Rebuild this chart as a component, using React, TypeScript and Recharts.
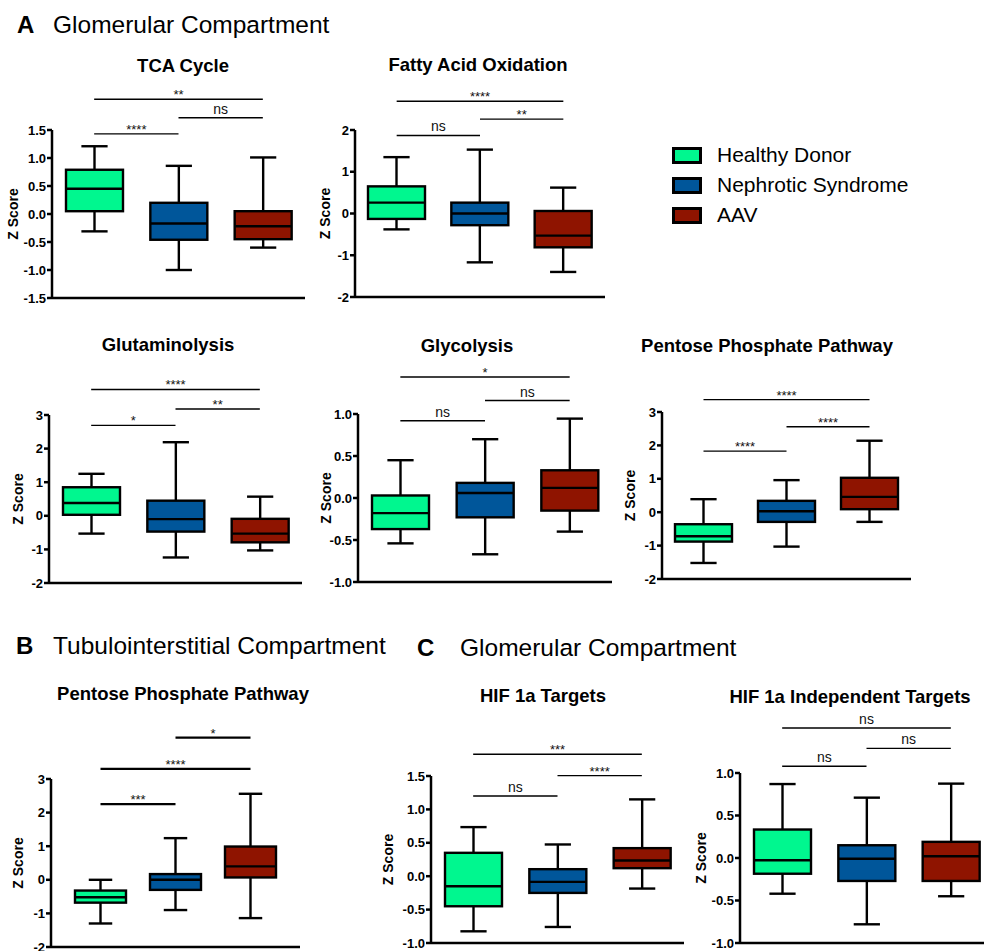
import React from 'react';
import { ComposedChart, Bar, XAxis, YAxis, ReferenceLine } from 'recharts';

const FONT = "'Liberation Sans', Arial, Helvetica, sans-serif";

const groups = ['Healthy Donor', 'Nephrotic Syndrome', 'AAV'];
const groupColors = ['#00F78F', '#00569A', '#8F1400'];

// five-number summaries: [min, q1, median, q3, max] per group (HD, NS, AAV)
const tcaStats = [
  [-0.31, 0.05, 0.45, 0.79, 1.21],
  [-1.0, -0.46, -0.17, 0.2, 0.86],
  [-0.6, -0.45, -0.22, 0.05, 1.01],
];
const faoStats = [
  [-0.38, -0.13, 0.26, 0.65, 1.35],
  [-1.17, -0.28, 0.0, 0.26, 1.53],
  [-1.4, -0.81, -0.53, 0.06, 0.62],
];
const glutStats = [
  [-0.53, 0.03, 0.38, 0.85, 1.25],
  [-1.24, -0.47, -0.1, 0.45, 2.19],
  [-1.03, -0.79, -0.53, -0.09, 0.57],
];
const glycStats = [
  [-0.54, -0.37, -0.18, 0.03, 0.45],
  [-0.67, -0.23, 0.06, 0.18, 0.7],
  [-0.4, -0.15, 0.12, 0.33, 0.945],
];
const pppGlomStats = [
  [-1.52, -0.88, -0.72, -0.36, 0.39],
  [-1.03, -0.29, 0.03, 0.34, 0.96],
  [-0.29, 0.09, 0.46, 1.03, 2.14],
];
const pppTubStats = [
  [-1.3, -0.68, -0.52, -0.32, 0.0],
  [-0.9, -0.3, 0.0, 0.17, 1.24],
  [-1.14, 0.07, 0.4, 0.99, 2.56],
];
const hifStats = [
  [-0.825, -0.45, -0.15, 0.35, 0.735],
  [-0.76, -0.25, -0.085, 0.105, 0.475],
  [-0.185, 0.12, 0.235, 0.42, 1.15],
];
const hifIndStats = [
  [-0.42, -0.185, -0.027, 0.335, 0.87],
  [-0.78, -0.27, -0.008, 0.15, 0.71],
  [-0.45, -0.27, 0.02, 0.19, 0.875],
];

// significance brackets: [fromGroup, toGroup, yValue, label]
const tcaSig: [number, number, number, string][] = [
  [0, 1, 1.43, '****'],
  [1, 2, 1.72, 'ns'],
  [0, 2, 2.05, '**'],
];
const faoSig: [number, number, number, string][] = [
  [0, 1, 1.87, 'ns'],
  [1, 2, 2.26, '**'],
  [0, 2, 2.69, '****'],
];
const glutSig: [number, number, number, string][] = [
  [0, 1, 2.69, '*'],
  [1, 2, 3.18, '**'],
  [0, 2, 3.76, '****'],
];
const glycSig: [number, number, number, string][] = [
  [0, 1, 0.92, 'ns'],
  [1, 2, 1.16, 'ns'],
  [0, 2, 1.44, '*'],
];
const pppGlomSig: [number, number, number, string][] = [
  [0, 1, 1.83, '****'],
  [1, 2, 2.56, '****'],
  [0, 2, 3.37, '****'],
];
const pppTubSig: [number, number, number, string][] = [
  [0, 1, 2.25, '***'],
  [0, 2, 3.3, '****'],
  [1, 2, 4.23, '*'],
];
const hifSig: [number, number, number, string][] = [
  [0, 1, 1.2, 'ns'],
  [1, 2, 1.505, '****'],
  [0, 2, 1.825, '***'],
];
const hifIndSig: [number, number, number, string][] = [
  [0, 1, 1.08, 'ns'],
  [1, 2, 1.29, 'ns'],
  [0, 2, 1.53, 'ns'],
];

// y-axis ticks
const ticks15 = [-1.5, -1.0, -0.5, 0.0, 0.5, 1.0, 1.5];
const ticks2 = [-2, -1, 0, 1, 2];
const ticks3 = [-2, -1, 0, 1, 2, 3];
const ticks1 = [-1.0, -0.5, 0.0, 0.5, 1.0];
const ticksHif = [-1.0, -0.5, 0.0, 0.5, 1.0, 1.5];

const titles = [
  'TCA Cycle',
  'Fatty Acid Oxidation',
  'Glutaminolysis',
  'Glycolysis',
  'Pentose Phosphate Pathway',
  'Pentose Phosphate Pathway',
  'HIF 1a Targets',
  'HIF 1a Independent Targets',
];

const BoxShape = (props: any) => {
  const { x, y, width, height, payload } = props;
  if (!payload) return null;
  const { min, q1, median, q3, max, color } = payload;
  const span = max - min;
  const py = (v: number) => y + (height * (max - v)) / span;
  const cx = x + width / 2;
  const capW = width * 0.46;
  const sw = 2.4;
  return (
    <g>
      <line x1={cx} x2={cx} y1={py(max)} y2={py(q3)} stroke="#000" strokeWidth={sw} />
      <line x1={cx} x2={cx} y1={py(q1)} y2={py(min)} stroke="#000" strokeWidth={sw} />
      <line x1={cx - capW / 2} x2={cx + capW / 2} y1={py(max)} y2={py(max)} stroke="#000" strokeWidth={sw} />
      <line x1={cx - capW / 2} x2={cx + capW / 2} y1={py(min)} y2={py(min)} stroke="#000" strokeWidth={sw} />
      <rect x={x} y={py(q3)} width={width} height={py(q1) - py(q3)} fill={color} stroke="#000" strokeWidth={sw} />
      <line x1={x} x2={x + width} y1={py(median)} y2={py(median)} stroke="#000" strokeWidth={sw} />
    </g>
  );
};

type PanelProps = {
  left: number;
  top: number;
  plotW: number;
  plotH: number;
  ticks: number[];
  decimals: number;
  stats: number[][];
  sigs: [number, number, number, string][];
  labelOffset: number;
  barSize?: number;
  pad?: number;
  bracketW?: number;
};

const axisStyle = { stroke: '#000', strokeWidth: 2.5 };

function Panel(p: PanelProps) {
  const mt = 80;
  const yW = 60;
  const xH = 30;
  const data = groups.map((g, i) => ({
    group: g,
    min: p.stats[i][0],
    q1: p.stats[i][1],
    median: p.stats[i][2],
    q3: p.stats[i][3],
    max: p.stats[i][4],
    color: groupColors[i],
  }));
  const domain: [number, number] = [p.ticks[0], p.ticks[p.ticks.length - 1]];
  return (
    <div style={{ position: 'absolute', left: p.left - yW, top: p.top - mt }}>
      <ComposedChart
        width={yW + p.plotW}
        height={mt + p.plotH + xH}
        data={data}
        margin={{ top: mt, right: 0, bottom: 0, left: 0 }}
      >
        <XAxis
          dataKey="group"
          type="category"
          tick={false}
          tickSize={6}
          axisLine={axisStyle}
          tickLine={axisStyle}
          height={xH}
          padding={p.pad ? { left: p.pad, right: p.pad } : { left: 0, right: 0 }}
        />
        <YAxis
          type="number"
          domain={domain}
          ticks={p.ticks}
          interval={0}
          width={yW}
          tickSize={5}
          tickMargin={1}
          axisLine={axisStyle}
          tickLine={axisStyle}
          tickFormatter={(v: number) => v.toFixed(p.decimals)}
          tick={{ fontSize: 13, fontWeight: 'bold', fill: '#000' }}
          label={{
            value: 'Z Score',
            angle: -90,
            position: 'insideLeft',
            offset: p.labelOffset,
            style: { textAnchor: 'middle', fontSize: 14, fontWeight: 'bold', fill: '#000' },
          }}
        />
        <Bar
          dataKey={(d: any) => [d.min, d.max]}
          barSize={p.barSize ?? 57}
          shape={BoxShape}
          isAnimationActive={false}
        />
        {p.sigs.map((s, i) => (
          <ReferenceLine
            key={i}
            segment={[
              { x: groups[s[0]], y: s[2] },
              { x: groups[s[1]], y: s[2] },
            ]}
            stroke="#000"
            strokeWidth={p.bracketW ?? 1.4}
            ifOverflow="visible"
            label={{
              value: s[3],
              position: 'top',
              offset: s[3] === 'ns' ? 4 : 0,
              fontSize: s[3] === 'ns' ? 14 : 13,
              fill: '#111',
            }}
          />
        ))}
      </ComposedChart>
    </div>
  );
}

const titlePos: [number, number][] = [
  [183, 66],
  [478, 65],
  [168, 345],
  [467, 346],
  [767, 346],
  [183, 694],
  [543, 696],
  [850, 697],
];

export default function App() {
  const tfs = 18.5;
  return (
    <div
      style={{
        position: 'absolute',
        left: 0,
        top: 0,
        width: 984,
        height: 951,
        overflow: 'hidden',
        background: '#fff',
        fontFamily: FONT,
        color: '#000',
      }}
    >
      <Panel left={52} top={130} plotW={253} plotH={168} ticks={ticks15} decimals={1} stats={tcaStats} sigs={tcaSig} labelOffset={21} />
      <Panel left={355} top={130} plotW={250} plotH={167} ticks={ticks2} decimals={0} stats={faoStats} sigs={faoSig} labelOffset={30} />
      <Panel left={49} top={415} plotW={253} plotH={168} ticks={ticks3} decimals={0} stats={glutStats} sigs={glutSig} labelOffset={29} />
      <Panel left={358} top={414} plotW={254} plotH={168} ticks={ticks1} decimals={1} stats={glycStats} sigs={glycSig} labelOffset={28} />
      <Panel left={662} top={412} plotW={249} plotH={167} ticks={ticks3} decimals={0} stats={pppGlomStats} sigs={pppGlomSig} labelOffset={28} />
      <Panel left={51} top={779} plotW={249} plotH={168} ticks={ticks3} decimals={0} stats={pppTubStats} sigs={pppTubSig} labelOffset={27} barSize={51} pad={12} bracketW={2.2} />
      <Panel left={431} top={776} plotW={253} plotH={167} ticks={ticksHif} decimals={1} stats={hifStats} sigs={hifSig} labelOffset={17} />
      <Panel left={740} top={773} plotW={253} plotH={170} ticks={ticks1} decimals={1} stats={hifIndStats} sigs={hifIndSig} labelOffset={21} />

      {titles.map((t, i) => (
        <div
          key={i}
          style={{
            position: 'absolute',
            left: titlePos[i][0] - 200,
            top: titlePos[i][1] - tfs * 0.5,
            width: 400,
            textAlign: 'center',
            fontSize: tfs,
            lineHeight: `${tfs}px`,
            fontWeight: 'bold',
            whiteSpace: 'nowrap',
          }}
        >
          {t}
        </div>
      ))}

      {/* Section headers */}
      {[
        ['A', 17, 25, 53, 'Glomerular Compartment'],
        ['B', 16, 646, 53, 'Tubulointerstitial Compartment'],
        ['C', 417, 648, 460, 'Glomerular Compartment'],
      ].map(([l, lx, cy, tx, txt]: any, i) => (
        <React.Fragment key={i}>
          <div style={{ position: 'absolute', left: lx, top: cy - 12, fontSize: 24, lineHeight: '24px', fontWeight: 'bold' }}>{l}</div>
          <div style={{ position: 'absolute', left: tx, top: cy - 12, fontSize: 24.5, lineHeight: '24px', whiteSpace: 'nowrap' }}>{txt}</div>
        </React.Fragment>
      ))}

      {/* Legend */}
      {groups.map((g, i) => (
        <React.Fragment key={g}>
          <div
            style={{
              position: 'absolute',
              left: 672,
              top: 147 + i * 30,
              width: 30,
              height: 17,
              boxSizing: 'border-box',
              border: '3px solid #000',
              background: groupColors[i],
            }}
          />
          <div style={{ position: 'absolute', left: 717, top: 155 + i * 30 - 11, fontSize: 21, lineHeight: '22px', whiteSpace: 'nowrap' }}>{g}</div>
        </React.Fragment>
      ))}
    </div>
  );
}
